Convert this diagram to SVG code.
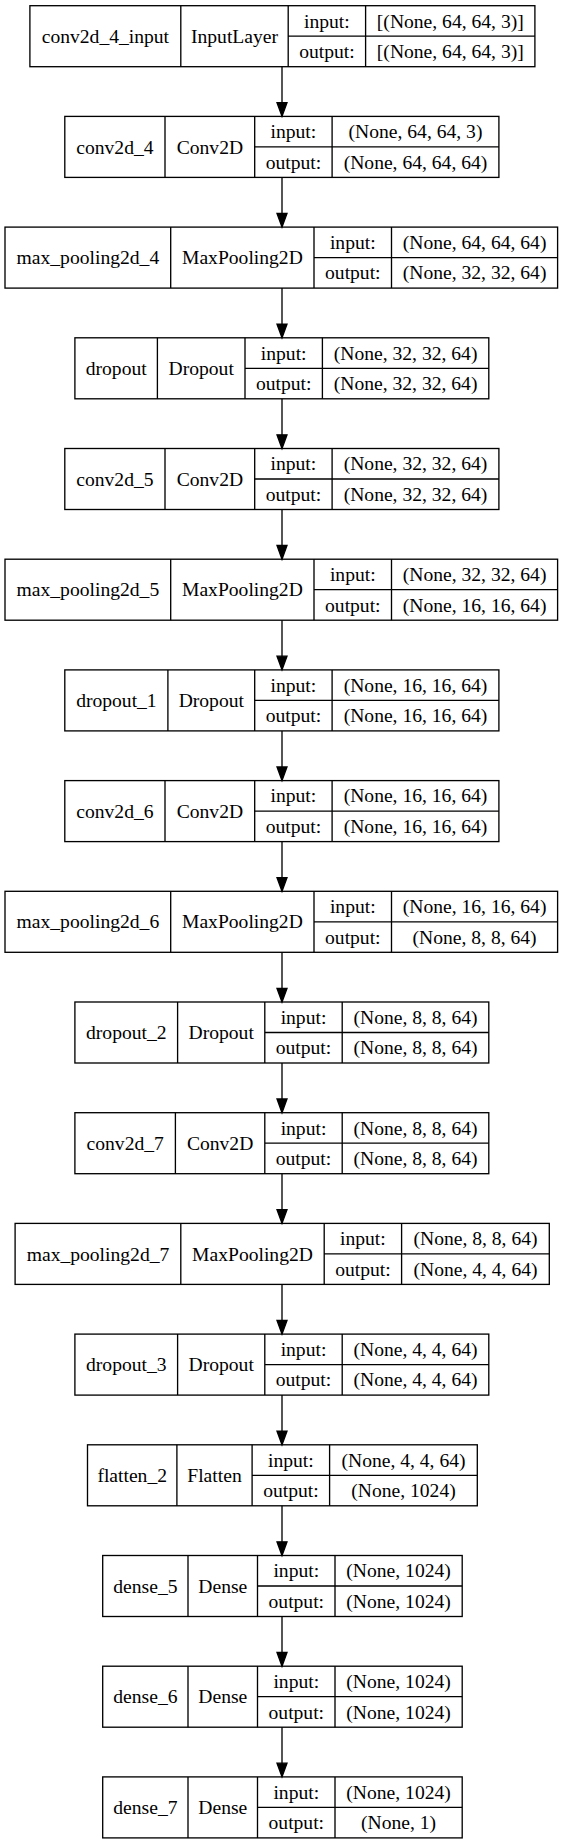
<svg xmlns="http://www.w3.org/2000/svg" width="563" height="1844" viewBox="0 0 563 1844" font-family="'Liberation Serif', 'Times New Roman', Times, serif">
<style>
.b{fill:none;stroke:#000;stroke-width:1.33}
.l{fill:none;stroke:#000;stroke-width:1.33}
.t{font-family:'Liberation Serif','Times New Roman',Times,serif;font-size:19.6px;fill:#000;text-anchor:middle}
.e{stroke:#000;stroke-width:1.33;fill:none}
.h{fill:#000;stroke:#000;stroke-width:1.33}
</style>
<rect width="563" height="1844" fill="#fff"/>
<g id="connectors">
<line class="e" x1="282" y1="66.7" x2="282" y2="116.4"/><polygon class="h" points="277,102.7 287,102.7 282,116.4"/>
<line class="e" x1="282" y1="177.4" x2="282" y2="227.1"/><polygon class="h" points="277,213.4 287,213.4 282,227.1"/>
<line class="e" x1="282" y1="288.1" x2="282" y2="337.8"/><polygon class="h" points="277,324.1 287,324.1 282,337.8"/>
<line class="e" x1="282" y1="398.8" x2="282" y2="448.5"/><polygon class="h" points="277,434.8 287,434.8 282,448.5"/>
<line class="e" x1="282" y1="509.5" x2="282" y2="559.2"/><polygon class="h" points="277,545.5 287,545.5 282,559.2"/>
<line class="e" x1="282" y1="620.2" x2="282" y2="669.9"/><polygon class="h" points="277,656.2 287,656.2 282,669.9"/>
<line class="e" x1="282" y1="730.9" x2="282" y2="780.6"/><polygon class="h" points="277,766.9 287,766.9 282,780.6"/>
<line class="e" x1="282" y1="841.6" x2="282" y2="891.3"/><polygon class="h" points="277,877.6 287,877.6 282,891.3"/>
<line class="e" x1="282" y1="952.3" x2="282" y2="1002"/><polygon class="h" points="277,988.3 287,988.3 282,1002"/>
<line class="e" x1="282" y1="1063" x2="282" y2="1112.7"/><polygon class="h" points="277,1099 287,1099 282,1112.7"/>
<line class="e" x1="282" y1="1173.7" x2="282" y2="1223.4"/><polygon class="h" points="277,1209.7 287,1209.7 282,1223.4"/>
<line class="e" x1="282" y1="1284.4" x2="282" y2="1334.1"/><polygon class="h" points="277,1320.4 287,1320.4 282,1334.1"/>
<line class="e" x1="282" y1="1395.1" x2="282" y2="1444.8"/><polygon class="h" points="277,1431.1 287,1431.1 282,1444.8"/>
<line class="e" x1="282" y1="1505.8" x2="282" y2="1555.5"/><polygon class="h" points="277,1541.8 287,1541.8 282,1555.5"/>
<line class="e" x1="282" y1="1616.5" x2="282" y2="1666.2"/><polygon class="h" points="277,1652.5 287,1652.5 282,1666.2"/>
<line class="e" x1="282" y1="1727.2" x2="282" y2="1776.9"/><polygon class="h" points="277,1763.2 287,1763.2 282,1776.9"/>
</g>
<g id="n0" transform="translate(0,5.7)">
<rect class="b" x="29.9" y="0" width="505" height="61"/>
<path class="l" d="M180.8,0V61M288.2,0V61M365.6,0V61M288.2,30.5H534.9"/>
<text class="t" x="105.4" y="37.2">conv2d_4_input</text><text class="t" x="234.5" y="37.2">InputLayer</text>
<text class="t" x="326.9" y="21.9">input:</text><text class="t" x="326.9" y="52.4">output:</text>
<text class="t" x="450.3" y="21.9">[(None, 64, 64, 3)]</text><text class="t" x="450.3" y="52.4">[(None, 64, 64, 3)]</text>
</g>
<g id="n1" transform="translate(0,116.4)">
<rect class="b" x="64.8" y="0" width="434.1" height="61"/>
<path class="l" d="M165,0V61M254.7,0V61M332.1,0V61M254.7,30.5H498.9"/>
<text class="t" x="114.9" y="37.2">conv2d_4</text><text class="t" x="209.9" y="37.2">Conv2D</text>
<text class="t" x="293.4" y="21.9">input:</text><text class="t" x="293.4" y="52.4">output:</text>
<text class="t" x="415.5" y="21.9">(None, 64, 64, 3)</text><text class="t" x="415.5" y="52.4">(None, 64, 64, 64)</text>
</g>
<g id="n2" transform="translate(0,227.1)">
<rect class="b" x="5" y="0" width="552.6" height="61"/>
<path class="l" d="M170.7,0V61M314,0V61M391.5,0V61M314,30.5H557.6"/>
<text class="t" x="87.9" y="37.2">max_pooling2d_4</text><text class="t" x="242.4" y="37.2">MaxPooling2D</text>
<text class="t" x="352.8" y="21.9">input:</text><text class="t" x="352.8" y="52.4">output:</text>
<text class="t" x="474.6" y="21.9">(None, 64, 64, 64)</text><text class="t" x="474.6" y="52.4">(None, 32, 32, 64)</text>
</g>
<g id="n3" transform="translate(0,337.8)">
<rect class="b" x="74.9" y="0" width="413.9" height="61"/>
<path class="l" d="M157.4,0V61M245,0V61M322.4,0V61M245,30.5H488.8"/>
<text class="t" x="116.2" y="37.2">dropout</text><text class="t" x="201.2" y="37.2">Dropout</text>
<text class="t" x="283.7" y="21.9">input:</text><text class="t" x="283.7" y="52.4">output:</text>
<text class="t" x="405.6" y="21.9">(None, 32, 32, 64)</text><text class="t" x="405.6" y="52.4">(None, 32, 32, 64)</text>
</g>
<g id="n4" transform="translate(0,448.5)">
<rect class="b" x="64.8" y="0" width="434.1" height="61"/>
<path class="l" d="M165,0V61M254.7,0V61M332.1,0V61M254.7,30.5H498.9"/>
<text class="t" x="114.9" y="37.2">conv2d_5</text><text class="t" x="209.9" y="37.2">Conv2D</text>
<text class="t" x="293.4" y="21.9">input:</text><text class="t" x="293.4" y="52.4">output:</text>
<text class="t" x="415.5" y="21.9">(None, 32, 32, 64)</text><text class="t" x="415.5" y="52.4">(None, 32, 32, 64)</text>
</g>
<g id="n5" transform="translate(0,559.2)">
<rect class="b" x="5" y="0" width="552.6" height="61"/>
<path class="l" d="M170.7,0V61M314,0V61M391.5,0V61M314,30.5H557.6"/>
<text class="t" x="87.9" y="37.2">max_pooling2d_5</text><text class="t" x="242.4" y="37.2">MaxPooling2D</text>
<text class="t" x="352.8" y="21.9">input:</text><text class="t" x="352.8" y="52.4">output:</text>
<text class="t" x="474.6" y="21.9">(None, 32, 32, 64)</text><text class="t" x="474.6" y="52.4">(None, 16, 16, 64)</text>
</g>
<g id="n6" transform="translate(0,669.9)">
<rect class="b" x="64.8" y="0" width="434.1" height="61"/>
<path class="l" d="M167.9,0V61M254.7,0V61M332.1,0V61M254.7,30.5H498.9"/>
<text class="t" x="116.4" y="37.2">dropout_1</text><text class="t" x="211.3" y="37.2">Dropout</text>
<text class="t" x="293.4" y="21.9">input:</text><text class="t" x="293.4" y="52.4">output:</text>
<text class="t" x="415.5" y="21.9">(None, 16, 16, 64)</text><text class="t" x="415.5" y="52.4">(None, 16, 16, 64)</text>
</g>
<g id="n7" transform="translate(0,780.6)">
<rect class="b" x="64.8" y="0" width="434.1" height="61"/>
<path class="l" d="M165,0V61M254.7,0V61M332.1,0V61M254.7,30.5H498.9"/>
<text class="t" x="114.9" y="37.2">conv2d_6</text><text class="t" x="209.9" y="37.2">Conv2D</text>
<text class="t" x="293.4" y="21.9">input:</text><text class="t" x="293.4" y="52.4">output:</text>
<text class="t" x="415.5" y="21.9">(None, 16, 16, 64)</text><text class="t" x="415.5" y="52.4">(None, 16, 16, 64)</text>
</g>
<g id="n8" transform="translate(0,891.3)">
<rect class="b" x="5" y="0" width="552.6" height="61"/>
<path class="l" d="M170.7,0V61M314,0V61M391.5,0V61M314,30.5H557.6"/>
<text class="t" x="87.9" y="37.2">max_pooling2d_6</text><text class="t" x="242.4" y="37.2">MaxPooling2D</text>
<text class="t" x="352.8" y="21.9">input:</text><text class="t" x="352.8" y="52.4">output:</text>
<text class="t" x="474.6" y="21.9">(None, 16, 16, 64)</text><text class="t" x="474.6" y="52.4">(None, 8, 8, 64)</text>
</g>
<g id="n9" transform="translate(0,1002)">
<rect class="b" x="74.9" y="0" width="413.9" height="61"/>
<path class="l" d="M177.6,0V61M264.8,0V61M342.2,0V61M264.8,30.5H488.8"/>
<text class="t" x="126.3" y="37.2">dropout_2</text><text class="t" x="221.2" y="37.2">Dropout</text>
<text class="t" x="303.5" y="21.9">input:</text><text class="t" x="303.5" y="52.4">output:</text>
<text class="t" x="415.5" y="21.9">(None, 8, 8, 64)</text><text class="t" x="415.5" y="52.4">(None, 8, 8, 64)</text>
</g>
<g id="n10" transform="translate(0,1112.7)">
<rect class="b" x="74.9" y="0" width="413.9" height="61"/>
<path class="l" d="M175.4,0V61M264.8,0V61M342.2,0V61M264.8,30.5H488.8"/>
<text class="t" x="125.2" y="37.2">conv2d_7</text><text class="t" x="220.1" y="37.2">Conv2D</text>
<text class="t" x="303.5" y="21.9">input:</text><text class="t" x="303.5" y="52.4">output:</text>
<text class="t" x="415.5" y="21.9">(None, 8, 8, 64)</text><text class="t" x="415.5" y="52.4">(None, 8, 8, 64)</text>
</g>
<g id="n11" transform="translate(0,1223.4)">
<rect class="b" x="15.1" y="0" width="534.2" height="61"/>
<path class="l" d="M180.8,0V61M324.2,0V61M401.6,0V61M324.2,30.5H549.3"/>
<text class="t" x="98" y="37.2">max_pooling2d_7</text><text class="t" x="252.5" y="37.2">MaxPooling2D</text>
<text class="t" x="362.9" y="21.9">input:</text><text class="t" x="362.9" y="52.4">output:</text>
<text class="t" x="475.5" y="21.9">(None, 8, 8, 64)</text><text class="t" x="475.5" y="52.4">(None, 4, 4, 64)</text>
</g>
<g id="n12" transform="translate(0,1334.1)">
<rect class="b" x="74.9" y="0" width="413.9" height="61"/>
<path class="l" d="M177.6,0V61M264.8,0V61M342.2,0V61M264.8,30.5H488.8"/>
<text class="t" x="126.3" y="37.2">dropout_3</text><text class="t" x="221.2" y="37.2">Dropout</text>
<text class="t" x="303.5" y="21.9">input:</text><text class="t" x="303.5" y="52.4">output:</text>
<text class="t" x="415.5" y="21.9">(None, 4, 4, 64)</text><text class="t" x="415.5" y="52.4">(None, 4, 4, 64)</text>
</g>
<g id="n13" transform="translate(0,1444.8)">
<rect class="b" x="87.5" y="0" width="389.8" height="61"/>
<path class="l" d="M176.9,0V61M252.1,0V61M329.6,0V61M252.1,30.5H477.3"/>
<text class="t" x="132.2" y="37.2">flatten_2</text><text class="t" x="214.5" y="37.2">Flatten</text>
<text class="t" x="290.9" y="21.9">input:</text><text class="t" x="290.9" y="52.4">output:</text>
<text class="t" x="403.5" y="21.9">(None, 4, 4, 64)</text><text class="t" x="403.5" y="52.4">(None, 1024)</text>
</g>
<g id="n14" transform="translate(0,1555.5)">
<rect class="b" x="102.7" y="0" width="359.5" height="61"/>
<path class="l" d="M188,0V61M257.5,0V61M335,0V61M257.5,30.5H462.2"/>
<text class="t" x="145.4" y="37.2">dense_5</text><text class="t" x="222.8" y="37.2">Dense</text>
<text class="t" x="296.3" y="21.9">input:</text><text class="t" x="296.3" y="52.4">output:</text>
<text class="t" x="398.6" y="21.9">(None, 1024)</text><text class="t" x="398.6" y="52.4">(None, 1024)</text>
</g>
<g id="n15" transform="translate(0,1666.2)">
<rect class="b" x="102.7" y="0" width="359.5" height="61"/>
<path class="l" d="M188,0V61M257.5,0V61M335,0V61M257.5,30.5H462.2"/>
<text class="t" x="145.4" y="37.2">dense_6</text><text class="t" x="222.8" y="37.2">Dense</text>
<text class="t" x="296.3" y="21.9">input:</text><text class="t" x="296.3" y="52.4">output:</text>
<text class="t" x="398.6" y="21.9">(None, 1024)</text><text class="t" x="398.6" y="52.4">(None, 1024)</text>
</g>
<g id="n16" transform="translate(0,1776.9)">
<rect class="b" x="102.7" y="0" width="359.5" height="61"/>
<path class="l" d="M188,0V61M257.5,0V61M335,0V61M257.5,30.5H462.2"/>
<text class="t" x="145.4" y="37.2">dense_7</text><text class="t" x="222.8" y="37.2">Dense</text>
<text class="t" x="296.3" y="21.9">input:</text><text class="t" x="296.3" y="52.4">output:</text>
<text class="t" x="398.6" y="21.9">(None, 1024)</text><text class="t" x="398.6" y="52.4">(None, 1)</text>
</g>
</svg>
